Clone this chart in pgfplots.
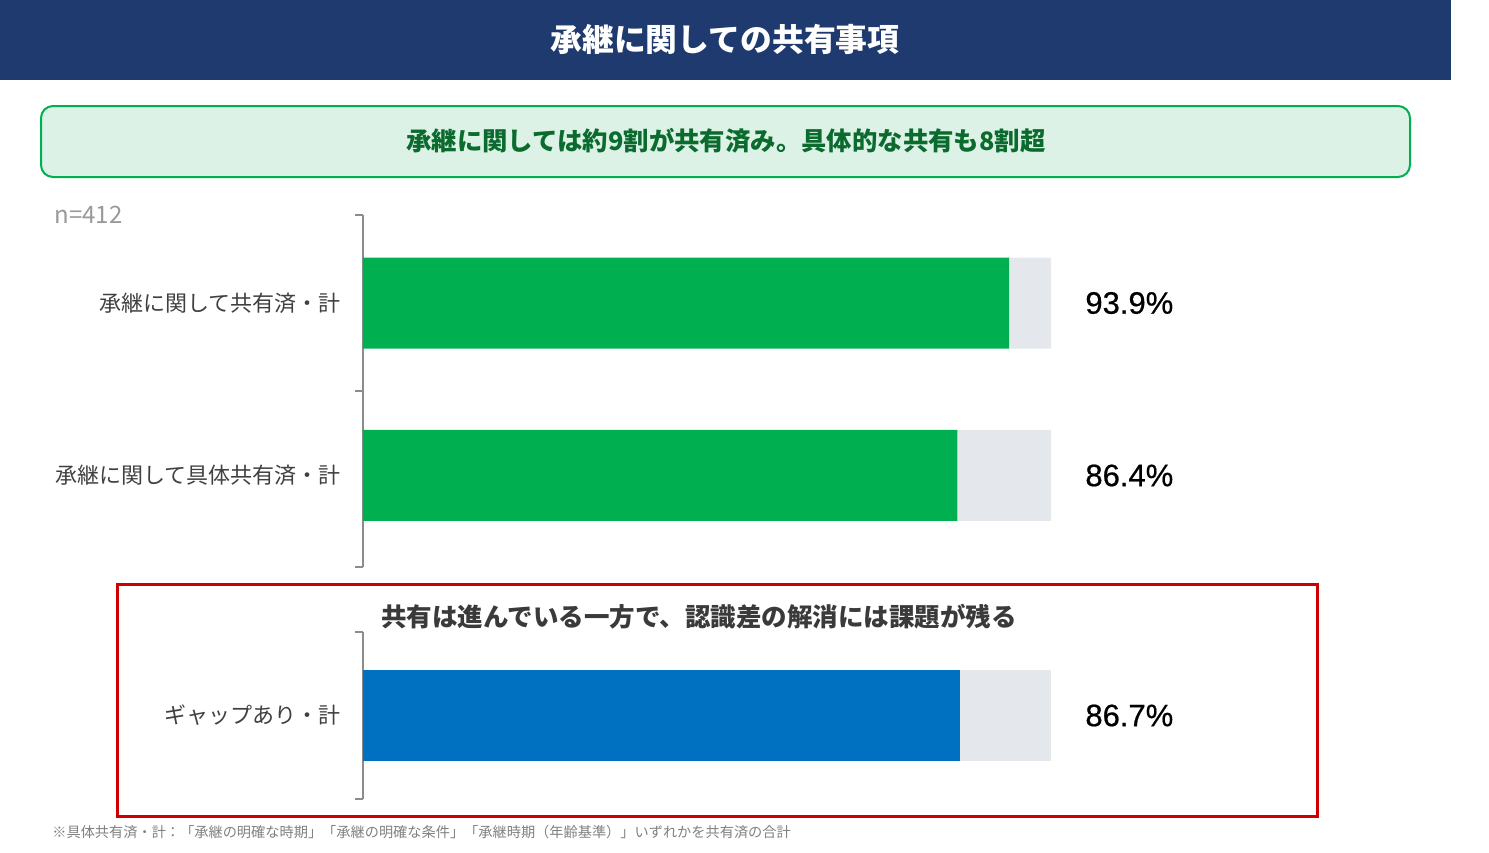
\documentclass[border=0pt]{standalone}
\usepackage{pgfplots}
\pgfplotsset{compat=1.18}
\usepackage{fontspec}
\setmainfont{Noto Sans CJK JP}
\newfontfamily\numfont[FakeBold=0.6]{Liberation Sans}

\definecolor{titleblue}{HTML}{1F3A6E}
\definecolor{boxfill}{HTML}{DCF2E6}
\definecolor{boxline}{HTML}{00B050}
\definecolor{boxtext}{HTML}{0B6B2E}
\definecolor{bargreen}{HTML}{00B050}
\definecolor{bargray}{HTML}{E4E7EC}
\definecolor{barblue}{HTML}{0070C0}
\definecolor{boxred}{HTML}{CC0000}
\definecolor{axisgray}{HTML}{8C8C8C}
\definecolor{labelgray}{HTML}{404040}

% shared look of both bar axes
\pgfplotsset{
  sharebars/.style={
    scale only axis,
    width=344pt,
    xmin=0, xmax=100,
    hide x axis,
    axis y line=left,
    y axis line style={-, axisgray, line width=1pt},
    tick align=outside,
    major tick length=4pt,
    ytick style={axisgray, line width=1pt},
    yticklabels={},
    xbar stacked,
    bar width=45.5pt,
    clip=false,
  }
}

\begin{document}
\begin{tikzpicture}
\path[use as bounding box] (0pt,0pt) rectangle (744.5pt,-426pt);

% header
\fill[titleblue] (0pt,0pt) rectangle (725.5pt,-40pt);
\node[text=white, font=\fontsize{15.9}{15.9}\selectfont\bfseries] at (362.5pt,-19.5pt) {承継に関しての共有事項};

% summary box
\draw[boxline, fill=boxfill, line width=1pt, rounded corners=6pt] (20.5pt,-53pt) rectangle (705pt,-88.5pt);
\node[text=boxtext, font=\fontsize{12.7}{12.7}\selectfont\bfseries] at (363pt,-70.5pt) {承継に関しては約9割が共有済み。具体的な共有も8割超};

\node[anchor=west, text=gray!80, font=\fontsize{12}{12}\selectfont, inner sep=0pt] at (27pt,-107.5pt) {n=412};

% main bars
\begin{axis}[sharebars,
  at={(181.5pt,-283.5pt)}, anchor=south west,
  height=176pt,
  ymin=-0.5, ymax=1.5,
  ytick={-0.5,0.5,1.5},
]
\addplot[fill=bargreen, draw=none] coordinates {(86.4,0.02) (93.9,1)};
\addplot[fill=bargray, draw=none] coordinates {(13.6,0.02) (6.1,1)};
\node[anchor=east, text=labelgray, font=\fontsize{11}{11}\selectfont, inner sep=0pt] at ([xshift=-11pt]axis cs:0,1) {承継に関して共有済・計};
\node[anchor=east, text=labelgray, font=\fontsize{11}{11}\selectfont, inner sep=0pt] at ([xshift=-11pt]axis cs:0,0.02) {承継に関して具体共有済・計};
\node[anchor=west, font=\numfont\fontsize{15.5}{15.5}\selectfont, inner sep=0pt] at ([xshift=17pt]axis cs:100,1) {93.9\%};
\node[anchor=west, font=\numfont\fontsize{15.5}{15.5}\selectfont, inner sep=0pt] at ([xshift=17pt]axis cs:100,0.02) {86.4\%};
\end{axis}

% gap box
\draw[boxred, line width=1.5pt] (58.5pt,-292pt) rectangle (658.5pt,-408pt);
\node[text=labelgray!90!black, font=\fontsize{12.75}{12.75}\selectfont\bfseries] at (349.5pt,-308.5pt) {共有は進んでいる一方で、認識差の解消には課題が残る};

\begin{axis}[sharebars,
  at={(181.5pt,-399.5pt)}, anchor=south west,
  height=83.5pt,
  ymin=-0.5, ymax=0.5,
  ytick={-0.5,0.5},
]
\addplot[fill=barblue, draw=none] coordinates {(86.7,0)};
\addplot[fill=bargray, draw=none] coordinates {(13.3,0)};
\node[anchor=east, text=labelgray, font=\fontsize{11}{11}\selectfont, inner sep=0pt] at ([xshift=-11pt]axis cs:0,0) {ギャップあり・計};
\node[anchor=west, font=\numfont\fontsize{15.5}{15.5}\selectfont, inner sep=0pt] at ([xshift=17pt]axis cs:100,0) {86.7\%};
\end{axis}

% footnote
\node[anchor=west, text=gray, font=\fontsize{7.1}{7.1}\selectfont, inner sep=0pt] at (26pt,-416pt) {※具体共有済・計：「承継の明確な時期」「承継の明確な条件」「承継時期（年齢基準）」いずれかを共有済の合計};
\end{tikzpicture}
\end{document}
